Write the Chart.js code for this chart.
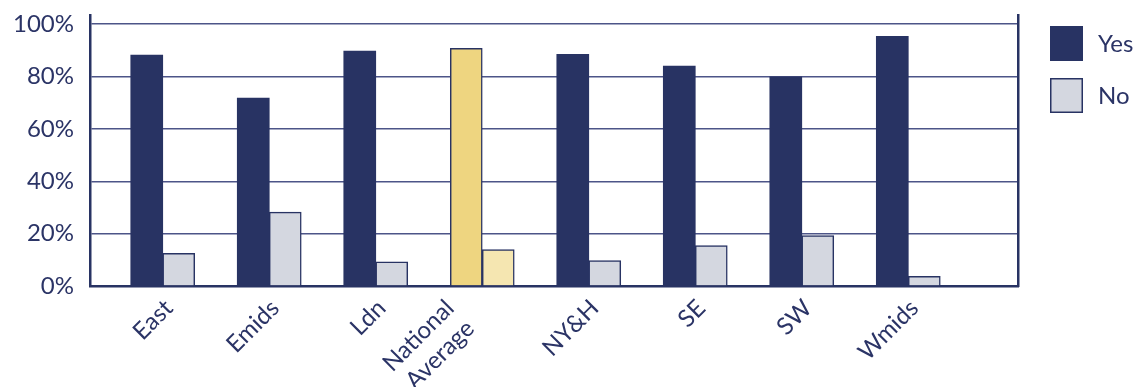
<!DOCTYPE html>
<html>
<head>
<meta charset="utf-8">
<script src="https://cdn.jsdelivr.net/npm/chart.js@4/dist/chart.umd.min.js"></script>
<style>
  html, body { margin: 0; padding: 0; background: #ffffff; }
  #wrap { width: 1138px; height: 387px; position: relative; }
</style>
</head>
<body>
<div id="wrap"><canvas id="chart"></canvas></div>
<script>
// Regions and share of responses (%)
const regions = ['East', 'Emids', 'Ldn', ['National', 'Average'], 'NY&H', 'SE', 'SW', 'Wmids'];
const yesValues = [88.2, 71.8, 89.7, 90.8, 88.5, 84.0, 79.9, 95.4];
const noValues  = [12.5, 28.2, 9.2, 13.9, 9.7, 15.4, 19.3, 3.7];
const yTicks = [0, 20, 40, 60, 80, 100];
const seriesNames = ['Yes', 'No'];

const NAVY = '#283363';
const GREY = '#d4d7e0';
const GOLD = '#eed580';
const PALE_GOLD = '#f5e6b1';
const TEXT = '#2b3466';
const GRID = '#4d5588';
const FONT = 'Lato, "Open Sans", sans-serif';

const highlight = 3; // National Average
const colorsFor = (base, special) => regions.map((_, i) => i === highlight ? special : base);
// two-line labels sit a little left so the block stays under its bars
const labelAnchor = (i) => Array.isArray(regions[i]) ? i - 0.36 : i;

// Legend drawn at the right of the plot frame
const sideLegend = {
  id: 'sideLegend',
  afterDraw(chart) {
    const ctx = chart.ctx;
    const x = chart.chartArea.right + 32;
    const rows = [26, 78];
    ctx.save();
    chart.data.datasets.forEach((ds, i) => {
      const y = rows[i];
      ctx.fillStyle = ds.legendFill;
      ctx.fillRect(x, y, 33, 35);
      if (ds.legendStroke) {
        ctx.strokeStyle = ds.legendStroke;
        ctx.lineWidth = 1.5;
        ctx.strokeRect(x + 0.75, y + 0.75, 31.5, 33.5);
      }
      ctx.fillStyle = TEXT;
      ctx.font = '24px ' + FONT;
      ctx.textBaseline = 'middle';
      ctx.textAlign = 'left';
      ctx.fillText(ds.label, x + 48, y + 18);
    });
    ctx.restore();
  }
};

new Chart(document.getElementById('chart'), {
  type: 'bar',
  data: {
    datasets: [
      {
        label: seriesNames[0],
        data: yesValues.map((v, i) => ({ x: i, y: v })),
        backgroundColor: colorsFor(NAVY, GOLD),
        borderColor: NAVY,
        borderWidth: colorsFor(0, 1.5),
        legendFill: NAVY
      },
      {
        label: seriesNames[1],
        data: noValues.map((v, i) => ({ x: i, y: v })),
        backgroundColor: colorsFor(GREY, PALE_GOLD),
        borderColor: NAVY,
        borderWidth: 1.5,
        legendFill: GREY,
        legendStroke: NAVY
      }
    ]
  },
  options: {
    responsive: true,
    maintainAspectRatio: false,
    animation: false,
    barThickness: 32,
    layout: { padding: { left: 0, right: 120, top: 15, bottom: 0 } },
    plugins: {
      legend: { display: false },
      tooltip: { enabled: false }
    },
    scales: {
      x: {
        type: 'linear',
        offset: false,
        min: -0.683,
        max: 8.03,
        afterBuildTicks: (scale) => { scale.ticks = regions.map((_, i) => ({ value: labelAnchor(i) })); },
        afterFit: (scale) => { scale.height = 101; scale.paddingLeft = 0; scale.paddingRight = 0; },
        grid: { display: false, drawTicks: false },
        border: { display: true, color: NAVY, width: 2.5 },
        ticks: {
          autoSkip: false,
          maxRotation: 45,
          minRotation: 45,
          padding: 8,
          labelOffset: 6,
          color: TEXT,
          font: { family: FONT, size: 24 },
          callback: (v, i) => regions[i]
        }
      },
      y: {
        min: 0,
        max: 103.5,
        afterBuildTicks: (scale) => { scale.ticks = yTicks.map(v => ({ value: v })); },
        afterFit: (scale) => { scale.width = 90; scale.paddingTop = 0; scale.paddingBottom = 0; },
        grid: { color: GRID, lineWidth: 1.5, drawTicks: false },
        border: { display: true, color: NAVY, width: 2.5 },
        ticks: {
          padding: 16,
          color: TEXT,
          font: { family: FONT, size: 24 },
          callback: (v) => v + '%'
        }
      },
      yRight: {
        position: 'right',
        min: 0,
        max: 103.5,
        afterFit: (scale) => { scale.width = 0; scale.paddingTop = 0; scale.paddingBottom = 0; },
        grid: { display: false, drawTicks: false },
        border: { display: true, color: NAVY, width: 2.5 },
        ticks: { display: false }
      }
    }
  },
  plugins: [sideLegend]
});
</script>
</body>
</html>
